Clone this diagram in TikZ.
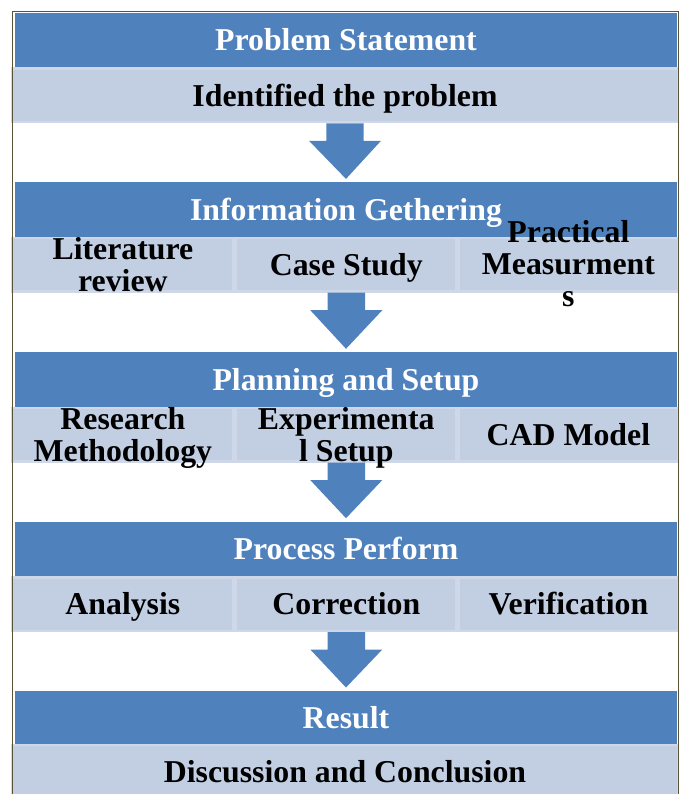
\documentclass[tikz,border=0pt]{standalone}
\usepackage{fontspec}
\setmainfont{Liberation Serif}
\usetikzlibrary{calc}

\definecolor{bandblue}{HTML}{4F81BD}
\definecolor{cellfill}{HTML}{C2CEE2}
\definecolor{celledge}{HTML}{CFD8E9}
\definecolor{framecol}{HTML}{5A5338}

% block arrow from the bottom of one stage to the header of the next
\newcommand{\stagearrow}[2]{%
  \fill[bandblue]
    ($(#1.south)+(-18.7,-1.2)$) -- ($(#1.south)+(18.7,-1.2)$) --
    ($(#1.south)+(18.7,-18.7)$) -- ($(#1.south)+(36,-18.7)$) --
    ($(#2.north)+(0,3.5)$) --
    ($(#1.south)+(-36,-18.7)$) -- ($(#1.south)+(-18.7,-18.7)$) -- cycle;}

\begin{document}
\begin{tikzpicture}[x=1pt,y=1pt,
  header/.style={fill=bandblue, draw=none, minimum width=662pt,
    minimum height=54.5pt, inner sep=0pt, outer sep=0pt, anchor=north west},
  cell/.style={fill=cellfill, draw=celledge, line width=2.4pt,
    minimum height=53.4pt, inner sep=0pt, outer sep=0pt, anchor=north west},
  fullcell/.style={cell, minimum width=665.6pt},
  cellA/.style={cell, minimum width=221.4pt},
  cellB/.style={cell, minimum width=220.6pt},
  cellC/.style={cell, minimum width=218.8pt},
  % texts are placed by the baseline of their last line
  boldtext/.style={font=\fontsize{31.8}{32}\selectfont\bfseries,
    align=center, inner sep=0pt, anchor=base},
  headtext/.style={boldtext, text=white, yshift=-10.7pt},
  oneline/.style={boldtext, text=black, yshift=-10.7pt},
  twolines/.style={boldtext, text=black, yshift=-26.4pt},
  threelines/.style={boldtext, text=black, yshift=-41.5pt}
]
\path[use as bounding box] (0,0) rectangle (681,-794);
\clip (0,0) rectangle (681,-794);

% stage headers
\node[header] (h1) at (15,-13)    {};
\node[header] (h2) at (15,-182.4) {};
\node[header] (h3) at (15,-352.3) {};
\node[header] (h4) at (15,-521.7) {};
\node[header, minimum height=53pt] (h5) at (15,-691) {};

% stage contents
\node[fullcell] (r1) at (12.2,-68.7) {};

\node[cellA] (r2a) at (12.2,-238.1) {};
\node[cellB] (r2b) at (236,-238.1)  {};
\node[cellC] (r2c) at (459,-238.1)  {};

\node[cellA] (r3a) at (12.2,-408) {};
\node[cellB] (r3b) at (236,-408)  {};
\node[cellC] (r3c) at (459,-408)  {};

\node[cellA] (r4a) at (12.2,-577.4) {};
\node[cellB] (r4b) at (236,-577.4)  {};
\node[cellC] (r4c) at (459,-577.4)  {};

\node[fullcell] (r5) at (12.2,-745.2) {};

% arrows between stages
\stagearrow{r1}{h2}
\stagearrow{r2b}{h3}
\stagearrow{r3b}{h4}
\stagearrow{r4b}{h5}

% header texts
\node[headtext] (t1) at (h1.center) {Problem Statement};
\node[headtext] (t2) at (h2.center) {Information Gethering};
\node[headtext] (t3) at (h3.center) {Planning and Setup};
\node[headtext] (t4) at (h4.center) {Process Perform};
\node[headtext] (t5) at (h5.center) {Result};

% content texts
\node[oneline]    (u1)  at (r1.center)  {Identified the problem};
\node[twolines]   (u2a) at (r2a.center) {Literature\\review};
\node[oneline]    (u2b) at (r2b.center) {Case Study};
\node[threelines] (u2c) at (r2c.center) {Practical\\Measurment\\s};
\node[twolines]   (u3a) at (r3a.center) {Research\\Methodology};
\node[twolines]   (u3b) at (r3b.center) {Experimenta\\l Setup};
\node[oneline]    (u3c) at (r3c.center) {CAD Model};
\node[oneline]    (u4a) at (r4a.center) {Analysis};
\node[oneline]    (u4b) at (r4b.center) {Correction};
\node[oneline]    (u4c) at (r4c.center) {Verification};
\node[oneline]    (u5)  at (r5.center)  {Discussion and Conclusion};

% outer frame, open at the bottom
\draw[framecol, line width=1.3pt] (12.6,-800) -- (12.6,-11.6) -- (678.6,-11.6) -- (678.6,-800);
\end{tikzpicture}
\end{document}
